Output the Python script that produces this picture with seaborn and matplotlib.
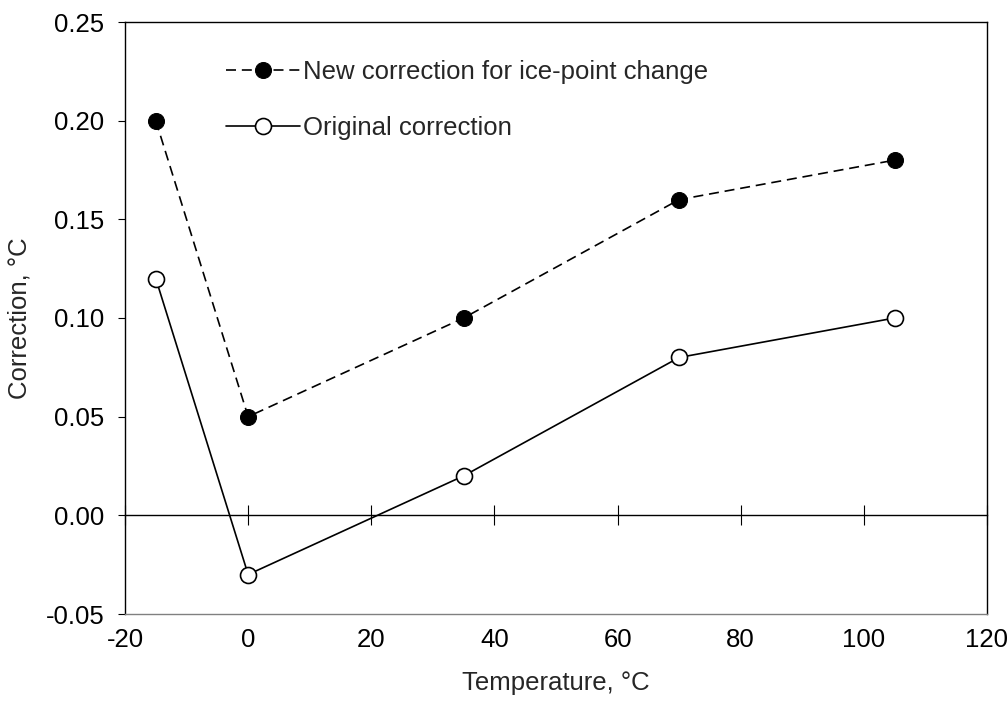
import matplotlib
matplotlib.use("Agg")
import matplotlib.pyplot as plt
import seaborn as sns
import pandas as pd

temperature = [-15, 0, 35, 70, 105]
new_correction = [0.20, 0.05, 0.10, 0.16, 0.18]
original_correction = [0.12, -0.03, 0.02, 0.08, 0.10]
x_ticks = [-20, 0, 20, 40, 60, 80, 100, 120]
y_ticks = [-0.05, 0.00, 0.05, 0.10, 0.15, 0.20, 0.25]
label_new = "New correction for ice-point change"
label_orig = "Original correction"

sns.set_theme(style="white")
plt.rcParams['font.family'] = ['Liberation Sans', 'DejaVu Sans']
plt.rcParams['axes.unicode_minus'] = False

FS = 18.5
fig = plt.figure(figsize=(10.08, 7.09), dpi=100)
ax = fig.add_axes([125/1008, 1 - 614/709, (987-125)/1008, (614-22)/709])

df_new = pd.DataFrame({"T": temperature, "C": new_correction})
df_orig = pd.DataFrame({"T": temperature, "C": original_correction})

sns.lineplot(data=df_new, x="T", y="C", ax=ax, color="black", linewidth=1.2,
             linestyle=(0, (6, 3.5)), marker="o", markersize=11.5,
             markerfacecolor="black", markeredgecolor="black", label=label_new, sort=False)
sns.lineplot(data=df_orig, x="T", y="C", ax=ax, color="black", linewidth=1.2,
             marker="o", markersize=11.5, markerfacecolor="white",
             markeredgecolor="black", markeredgewidth=1.2, label=label_orig, sort=False)

ax.set_xlim(-20, 120)
ax.set_ylim(-0.05, 0.25)
ax.set_xticks(x_ticks)
ax.set_yticks(y_ticks)
ax.set_xticklabels([str(v) for v in x_ticks], fontsize=FS)
ax.set_yticklabels([f"{v:.2f}" for v in y_ticks], fontsize=FS)
ax.tick_params(axis='x', length=0, pad=10, colors='black')
ax.tick_params(axis='y', length=5, width=0.8, direction='out', left=True, pad=10, colors='black')

for s in ['left', 'top', 'right']:
    ax.spines[s].set_color('black')
    ax.spines[s].set_linewidth(1.0)
ax.spines['bottom'].set_color('#808080')
ax.spines['bottom'].set_linewidth(1.0)

# zero line axis with crossing ticks
y0 = (0 - (-0.05)) / 0.30
sec = ax.secondary_xaxis(y0)
sec.set_xticks(x_ticks)
sec.tick_params(axis='x', direction='inout', length=14, width=0.8, labelbottom=False, labeltop=False, colors='black')
sec.spines['bottom'].set_color('black')
sec.spines['top'].set_color('black')
sec.spines['bottom'].set_linewidth(1.0)
sec.spines['top'].set_linewidth(1.0)

ax.set_xlabel("Temperature, °C", fontsize=FS, labelpad=14)
ax.set_ylabel("Correction, °C", fontsize=FS, labelpad=10)

ax.legend(loc='upper left', bbox_to_anchor=(0.102, 0.957), frameon=False, fontsize=FS,
          handlelength=2.9, handletextpad=0.12, labelspacing=1.25, borderpad=0)

fig.savefig("out.png", dpi=100)
